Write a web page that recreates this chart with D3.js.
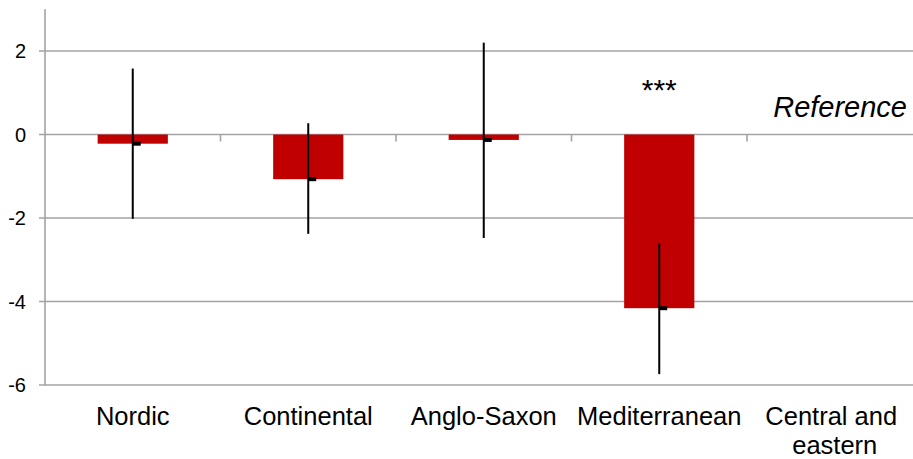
<!DOCTYPE html>
<html>
<head>
<meta charset="utf-8">
<script src="https://cdn.jsdelivr.net/npm/d3@7"></script>
<style>
  html, body { margin: 0; padding: 0; background: #fff; }
  svg { display: block; }
  text { font-family: "Liberation Sans", Arial, sans-serif; fill: #000; }
</style>
</head>
<body>
<svg id="chart" width="913" height="459"></svg>
<script>
// Regime groups and their estimated effects with confidence intervals
const categories = ["Nordic", "Continental", "Anglo-Saxon", "Mediterranean", "Central and eastern"];
const categoryLines = [["Nordic"], ["Continental"], ["Anglo-Saxon"], ["Mediterranean"], ["Central and ", "eastern"]];
const values = [-0.22, -1.07, -0.13, -4.16, null];
const ciUpper = [1.58, 0.27, 2.2, -2.6, null];
const ciLower = [-2.02, -2.38, -2.48, -5.74, null];
const significance = ["", "", "", "***", ""];
const yTicks = [2, 0, -2, -4, -6];
const referenceLabel = "Reference";

const svg = d3.select("#chart");
const left = 45, bandW = 175.5;

const x = d3.scaleBand()
  .domain(categories)
  .range([left, left + bandW * categories.length])
  .paddingInner(0).paddingOuter(0);

const y = d3.scaleLinear().domain([-6, 3]).range([385, 9.25]);

const grid = "#a3a3a3";

// Horizontal gridlines
svg.append("g").selectAll("line").data(yTicks).join("line")
  .attr("x1", left - 6).attr("x2", 913)
  .attr("y1", d => y(d)).attr("y2", d => y(d))
  .attr("stroke", grid).attr("stroke-width", 1.6);

// Y axis line
svg.append("line")
  .attr("x1", left).attr("x2", left)
  .attr("y1", y(3)).attr("y2", y(-6))
  .attr("stroke", grid).attr("stroke-width", 1.6);

// Y tick labels
svg.append("g").selectAll("text").data(yTicks).join("text")
  .attr("x", 26).attr("y", d => y(d))
  .attr("dy", "0.35em")
  .attr("text-anchor", "end")
  .attr("font-size", 20)
  .text(d => d);

// Tick marks below the zero line at category boundaries
const boundaries = categories.slice(1).map(c => x(c));
svg.append("g").selectAll("line").data(boundaries).join("line")
  .attr("x1", d => d).attr("x2", d => d)
  .attr("y1", y(0)).attr("y2", y(0) + 7)
  .attr("stroke", grid).attr("stroke-width", 1.6);

const barW = x.bandwidth() * 0.4;
const rows = categories.map((c, i) => ({
  c, v: values[i], hi: ciUpper[i], lo: ciLower[i], sig: significance[i]
})).filter(d => d.v !== null);

// Bars
svg.append("g").selectAll("rect").data(rows).join("rect")
  .attr("x", d => x(d.c) + x.bandwidth() / 2 - barW / 2)
  .attr("width", barW)
  .attr("y", d => y(Math.max(0, d.v)))
  .attr("height", d => Math.abs(y(d.v) - y(0)))
  .attr("fill", "#C00000");

// Confidence interval whiskers
svg.append("g").selectAll("line").data(rows).join("line")
  .attr("x1", d => x(d.c) + x.bandwidth() / 2)
  .attr("x2", d => x(d.c) + x.bandwidth() / 2)
  .attr("y1", d => y(d.hi)).attr("y2", d => y(d.lo))
  .attr("stroke", "#000").attr("stroke-width", 2);

// Point estimate markers
svg.append("g").selectAll("rect").data(rows).join("rect")
  .attr("x", d => x(d.c) + x.bandwidth() / 2)
  .attr("width", 8)
  .attr("y", d => y(d.v) - 2)
  .attr("height", 4)
  .attr("fill", "#000");

// Significance stars
svg.append("g").selectAll("text").data(rows.filter(d => d.sig)).join("text")
  .attr("x", d => x(d.c) + x.bandwidth() / 2)
  .attr("y", 100)
  .attr("text-anchor", "middle")
  .attr("font-size", 30)
  .text(d => d.sig);

// Category labels
const labels = svg.append("g").selectAll("text").data(categories).join("text")
  .attr("x", d => x(d) + x.bandwidth() / 2)
  .attr("y", 425)
  .attr("text-anchor", "middle")
  .attr("font-size", 25.5);
labels.each(function(d, i) {
  d3.select(this).selectAll("tspan").data(categoryLines[i]).join("tspan")
    .attr("x", x(d) + x.bandwidth() / 2)
    .attr("dy", (t, j) => j === 0 ? 0 : 28.5)
    .style("white-space", "pre")
    .text(t => t);
});

// Reference-group note
svg.append("text")
  .attr("x", 907).attr("y", 117)
  .attr("text-anchor", "end")
  .attr("font-size", 29)
  .attr("font-style", "italic")
  .text(referenceLabel);
</script>
</body>
</html>
